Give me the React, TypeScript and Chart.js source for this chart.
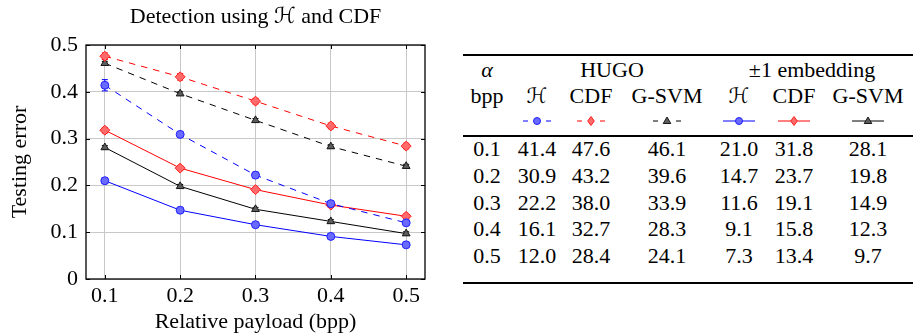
import React, { useEffect, useRef } from 'react';
import { Chart, registerables } from 'chart.js';
Chart.register(...registerables);

// ---------- data ----------
const bpp = [0.1, 0.2, 0.3, 0.4, 0.5];
const hugoH = [41.4, 30.9, 22.2, 16.1, 12.0];
const hugoCDF = [47.6, 43.2, 38.0, 32.7, 28.4];
const hugoGSVM = [46.1, 39.6, 33.9, 28.3, 24.1];
const pmH = [21.0, 14.7, 11.6, 9.1, 7.3];
const pmCDF = [31.8, 23.7, 19.1, 15.8, 13.4];
const pmGSVM = [28.1, 19.8, 14.9, 12.3, 9.7];
// estimated error-bar half-lengths (percent)
const hugoHErr = [1.2, 0.6, 0.6, 0.5, 0.5];
const hugoCDFErr = [0.7, 0.7, 0.6, 0.6, 0.6];
const hugoGSVMErr = [0.4, 0.4, 0.4, 0.4, 0.4];
const pmHErr = [0.6, 0.4, 0.4, 0.3, 0.3];
const pmCDFErr = [0.6, 0.5, 0.5, 0.5, 0.5];
const pmGSVMErr = [0.4, 0.4, 0.4, 0.4, 0.4];
const xTicks = [0.1, 0.2, 0.3, 0.4, 0.5];
const yTicks = [0, 0.1, 0.2, 0.3, 0.4, 0.5];

const FONT = "'Liberation Serif'";
const FONT_CAL = "'Liberation Serif', 'DejaVu Sans'";

const BLUE = { line: '#0000ff', border: '#2020ff', fill: '#6a6aff' };
const RED = { line: '#ff0000', border: '#ff2020', fill: '#ff6a6a' };
const BLACK = { line: '#000000', border: '#1a1a1a', fill: '#5c5c5c' };

type Series = { vals: number[]; err: number[]; c: typeof BLUE; shape: string; r: number; dashed: boolean };
const series: Series[] = [
  { vals: hugoH, err: hugoHErr, c: BLUE, shape: 'circle', r: 4, dashed: true },
  { vals: hugoCDF, err: hugoCDFErr, c: RED, shape: 'rectRot', r: 5, dashed: true },
  { vals: hugoGSVM, err: hugoGSVMErr, c: BLACK, shape: 'triangle', r: 4.5, dashed: true },
  { vals: pmH, err: pmHErr, c: BLUE, shape: 'circle', r: 4, dashed: false },
  { vals: pmCDF, err: pmCDFErr, c: RED, shape: 'rectRot', r: 5, dashed: false },
  { vals: pmGSVM, err: pmGSVMErr, c: BLACK, shape: 'triangle', r: 4.5, dashed: false },
];

const errorBars = {
  id: 'errorBars',
  beforeDatasetsDraw(chart: any) {
    const { ctx, scales } = chart;
    const y = scales.y;
    chart.data.datasets.forEach((ds: any, di: number) => {
      const meta = chart.getDatasetMeta(di);
      ctx.save();
      ctx.strokeStyle = ds.borderColor;
      ctx.lineWidth = 1;
      meta.data.forEach((pt: any, i: number) => {
        const v = ds.data[i].y;
        const e = ds.errors[i];
        const y1 = y.getPixelForValue(v + e);
        const y2 = y.getPixelForValue(v - e);
        ctx.beginPath();
        ctx.moveTo(pt.x, y1); ctx.lineTo(pt.x, y2);
        ctx.moveTo(pt.x - 3, y1); ctx.lineTo(pt.x + 3, y1);
        ctx.moveTo(pt.x - 3, y2); ctx.lineTo(pt.x + 3, y2);
        ctx.stroke();
      });
      ctx.restore();
    });
  },
};

const frameTicks = {
  id: 'frameTicks',
  afterDraw(chart: any) {
    const { ctx, chartArea, scales } = chart;
    const { left, right, top, bottom } = chartArea;
    const L = 4;
    ctx.save();
    ctx.strokeStyle = '#000';
    ctx.lineWidth = 1;
    ctx.beginPath();
    scales.x.ticks.forEach((t: any) => {
      const px = Math.round(scales.x.getPixelForValue(t.value)) + 0.5;
      ctx.moveTo(px, bottom); ctx.lineTo(px, bottom - L);
      ctx.moveTo(px, top); ctx.lineTo(px, top + L);
    });
    scales.y.ticks.forEach((t: any) => {
      const py = Math.round(scales.y.getPixelForValue(t.value)) + 0.5;
      ctx.moveTo(left, py); ctx.lineTo(left + L, py);
      ctx.moveTo(right, py); ctx.lineTo(right - L, py);
    });
    ctx.stroke();
    ctx.lineWidth = 1.3;
    ctx.strokeRect(left, top, right - left, bottom - top);
    ctx.restore();
  },
};

function PlotChart() {
  const ref = useRef<HTMLCanvasElement | null>(null);
  useEffect(() => {
    if (!ref.current) return;
    const font = { family: FONT, size: 22, weight: 'normal' as const };
    const chart = new Chart(ref.current, {
      type: 'line',
      data: {
        datasets: series.map((s) => ({
          data: bpp.map((x, i) => ({ x, y: s.vals[i] / 100 })),
          errors: s.err.map((e) => e / 100),
          borderColor: s.c.line,
          borderWidth: 1,
          borderDash: s.dashed ? [6.5, 6] : [],
          pointStyle: s.shape,
          pointRadius: s.r,
          pointBackgroundColor: s.c.fill,
          pointBorderColor: s.c.border,
          pointBorderWidth: 1,
          fill: false,
          tension: 0,
          clip: false,
        })) as any,
      },
      options: {
        animation: false,
        responsive: false,
        maintainAspectRatio: false,
        layout: { padding: { left: 0, right: 25, top: 0, bottom: 0 } },
        plugins: {
          legend: { display: false },
          tooltip: { enabled: false },
          title: {
            display: true,
            text: 'Detection using ℋ and CDF',
            color: '#000',
            font: { family: FONT_CAL, size: 22, weight: 'normal', lineHeight: 1.2 },
            padding: { top: 4, bottom: 14.6 },
            fullSize: false,
          },
        },
        scales: {
          x: {
            type: 'linear',
            min: 0.075,
            max: 0.525,
            afterBuildTicks: (s: any) => { s.ticks = xTicks.map((v) => ({ value: v })); },
            afterFit: (s: any) => { s.height = 54; },
            grid: { color: '#c8c8c8', drawTicks: false, lineWidth: 1 },
            border: { display: false },
            ticks: { font, color: '#000', padding: 4, callback: (v: any) => Number(v).toFixed(1) },
            title: { display: true, text: 'Relative payload (bpp)', color: '#000', font: { ...font, lineHeight: 1.0 }, padding: { top: 0, bottom: 0 } },
          },
          y: {
            type: 'linear',
            min: 0,
            max: 0.5,
            afterBuildTicks: (s: any) => { s.ticks = yTicks.map((v) => ({ value: v })); },
            afterFit: (s: any) => { s.width = 86; },
            grid: { color: '#c8c8c8', drawTicks: false, lineWidth: 1 },
            border: { display: false },
            ticks: { font, color: '#000', padding: 8, callback: (v: any) => (Number(v) === 0 ? '0' : Number(v).toFixed(1)) },
            title: { display: true, text: 'Testing error', color: '#000', font: { ...font, lineHeight: 1.0 }, padding: { top: 9, bottom: 0 } },
          },
        },
      },
      plugins: [errorBars, frameTicks],
    });
    return () => chart.destroy();
  }, []);
  return <canvas ref={ref} width={450} height={333} style={{ position: 'absolute', left: 0, top: 0, width: 450, height: 333 }} />;
}

// ---------- table ----------
const colX = [487, 537, 591, 667, 739, 794, 868];
const headerRow2 = ['bpp', 'ℋ', 'CDF', 'G-SVM', 'ℋ', 'CDF', 'G-SVM'];
const rowY = [149, 176, 203, 229, 256];

function Cell({ x, y, children, w = 120 }: { x: number; y: number; children: React.ReactNode; w?: number }) {
  return (
    <div style={{ position: 'absolute', left: x - w / 2, top: y - 15, width: w, height: 30, lineHeight: '30px', textAlign: 'center', whiteSpace: 'nowrap' }}>
      {children}
    </div>
  );
}

function Icon({ cx, cy, s }: { cx: number; cy: number; s: Series }) {
  const w = s.dashed ? 28 : 32;
  const m = w / 2;
  const h = 14;
  const c = h / 2;
  let marker: React.ReactNode;
  if (s.shape === 'circle') marker = <circle cx={m} cy={c} r={3.5} fill={s.c.fill} stroke={s.c.border} strokeWidth={1} />;
  else if (s.shape === 'rectRot') marker = <polygon points={`${m},${c - 4.5} ${m + 3.3},${c} ${m},${c + 4.5} ${m - 3.3},${c}`} fill={s.c.fill} stroke={s.c.border} strokeWidth={1} />;
  else marker = <polygon points={`${m},${c - 4} ${m + 3.8},${c + 2.5} ${m - 3.8},${c + 2.5}`} fill={s.c.fill} stroke={s.c.border} strokeWidth={1} />;
  return (
    <svg width={w} height={h} style={{ position: 'absolute', left: cx - w / 2, top: cy - h / 2 }}>
      {s.dashed ? (
        <>
          <line x1={0} y1={c} x2={5} y2={c} stroke={s.c.line} strokeWidth={1} />
          <line x1={w - 5} y1={c} x2={w} y2={c} stroke={s.c.line} strokeWidth={1} />
        </>
      ) : (
        <line x1={0} y1={c} x2={w} y2={c} stroke={s.c.line} strokeWidth={1} />
      )}
      {marker}
    </svg>
  );
}

function Table() {
  const cols = [hugoH, hugoCDF, hugoGSVM, pmH, pmCDF, pmGSVM];
  const rule = (top: number, h: number) => (
    <div style={{ position: 'absolute', left: 463, width: 450, top, height: h, background: '#000' }} />
  );
  const cal = (t: string) => (t === 'ℋ' ? <span style={{ fontFamily: "'DejaVu Sans'", fontSize: 21 }}>ℋ</span> : t);
  return (
    <div style={{ position: 'absolute', left: 0, top: 0, width: 913, height: 333, fontFamily: FONT, fontSize: 22, color: '#000' }}>
      {rule(54, 2)}
      <Cell x={487} y={70}><i>α</i></Cell>
      <Cell x={612} y={70}>HUGO</Cell>
      <Cell x={812} y={70} w={200}>±1 embedding</Cell>
      {headerRow2.map((t, i) => (
        <Cell key={'h' + i} x={colX[i]} y={96}>{cal(t)}</Cell>
      ))}
      {series.map((s, i) => (
        <Icon key={'ic' + i} cx={colX[i + 1]} cy={121} s={s} />
      ))}
      {rule(135, 1.5)}
      {bpp.map((b, r) => (
        <React.Fragment key={'r' + r}>
          <Cell x={colX[0]} y={rowY[r]}>{b.toFixed(1)}</Cell>
          {cols.map((col, ci) => (
            <Cell key={'c' + ci} x={colX[ci + 1]} y={rowY[r]}>{col[r].toFixed(1)}</Cell>
          ))}
        </React.Fragment>
      ))}
      {rule(282, 2)}
    </div>
  );
}

export default function App() {
  return (
    <div style={{ position: 'absolute', left: 0, top: 0, width: 913, height: 333, background: '#fff', overflow: 'hidden' }}>
      <Table />
      <PlotChart />
    </div>
  );
}
